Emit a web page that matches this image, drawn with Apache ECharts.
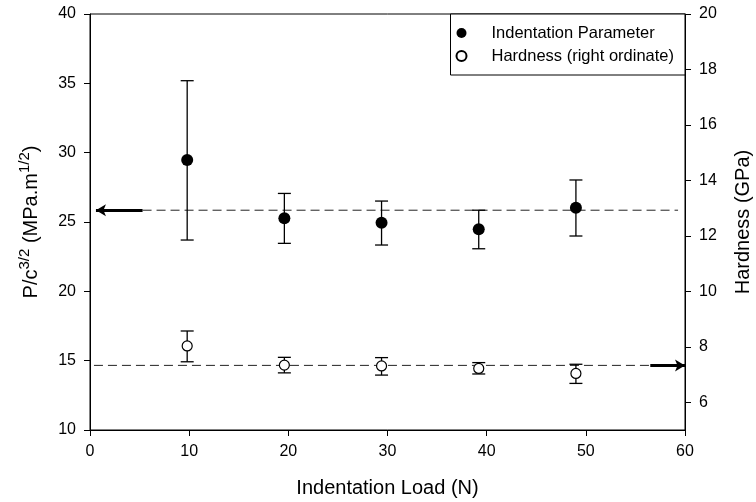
<!DOCTYPE html>
<html>
<head>
<meta charset="utf-8">
<script src="https://cdn.jsdelivr.net/npm/echarts@6/dist/echarts.min.js"></script>
<style>
  html, body { margin: 0; padding: 0; background: #fff; }
  #main { width: 756px; height: 502px; }
</style>
</head>
<body>
<div id="main"></div>
<script>
var chartDom = document.getElementById('main');
var myChart = echarts.init(chartDom);
var option;

// indentation load (N)
const loads = [9.8, 19.6, 29.4, 39.2, 49.0];
// indentation parameter P/c^3/2, left axis
const param = [29.47, 25.27, 24.95, 24.47, 26.03];
const paramHi = [35.19, 27.06, 26.51, 25.85, 28.03];
const paramLo = [23.70, 23.46, 23.34, 23.07, 23.99];
// hardness (GPa), right axis
const hard = [8.03, 7.34, 7.31, 7.22, 7.04];
const hardHi = [8.57, 7.62, 7.61, 7.43, 7.37];
const hardLo = [7.46, 7.06, 6.98, 7.02, 6.68];
// mean lines: [x start, x end, value], arrows: [x from, x to]
const paramMean = [5.3, 59.3, 25.85];
const paramArrow = [5.3, 0.6];
const hardMean = [0.4, 56.5, 7.33];
const hardArrow = [56.5, 60];
const rightTicks = [6, 8, 10, 12, 14, 16, 18, 20];

const FONT = 'Liberation Sans, Arial, sans-serif';

function errorBar(params, api) {
    var x = api.value(0);
    var top = api.coord([x, api.value(2)]);
    var bot = api.coord([x, api.value(1)]);
    var w = 6.5;
    var st = { stroke: '#000', lineWidth: 1.3 };
    return {
        type: 'group',
        children: [
            { type: 'line', shape: { x1: top[0], y1: top[1], x2: bot[0], y2: bot[1] }, style: st },
            { type: 'line', shape: { x1: top[0] - w, y1: top[1], x2: top[0] + w, y2: top[1] }, style: st },
            { type: 'line', shape: { x1: bot[0] - w, y1: bot[1], x2: bot[0] + w, y2: bot[1] }, style: st }
        ]
    };
}

function meanLine(name, m, arrow, yIdx) {
    return {
        name: name,
        type: 'line',
        yAxisIndex: yIdx,
        symbol: 'none',
        silent: true,
        z: 1,
        data: [[m[0], m[2]], [m[1], m[2]]],
        lineStyle: { color: '#222', width: 1, type: [9, 5] },
        markLine: {
            silent: true,
            symbol: ['none', 'arrow'],
            symbolSize: [9, 10],
            label: { show: false },
            lineStyle: { color: '#000', width: 3, type: 'solid' },
            data: [[{ coord: [arrow[0], m[2]] }, { coord: [arrow[1], m[2]] }]]
        }
    };
}

option = {
    animation: false,
    backgroundColor: '#fff',
    textStyle: { fontFamily: FONT },
    grid: {
        left: 90,
        right: 71,
        top: 14,
        bottom: 72,
        outerBoundsMode: 'none',
        containLabel: false,
        show: true,
        borderColor: '#000',
        borderWidth: 1
    },
    legend: {
        orient: 'vertical',
        right: 71,
        top: 14,
        backgroundColor: '#fff',
        borderColor: '#000',
        borderWidth: 1,
        borderRadius: 0,
        padding: [10, 11, 10, 5],
        itemGap: 5,
        itemWidth: 50,
        itemHeight: 10,
        textStyle: { fontSize: 16.5, color: '#000', fontFamily: FONT, lineHeight: 18 },
        data: ['Indentation Parameter', 'Hardness (right ordinate)']
    },
    xAxis: {
        type: 'value',
        min: 0,
        max: 60,
        interval: 10,
        name: 'Indentation Load (N)',
        nameLocation: 'middle',
        nameGap: 48,
        nameTextStyle: { fontSize: 20, color: '#000', fontFamily: FONT },
        axisLine: { lineStyle: { color: '#000', width: 1 } },
        axisTick: { inside: false, length: 6, lineStyle: { color: '#000' } },
        axisLabel: { fontSize: 16, color: '#000', margin: 14, fontFamily: FONT },
        splitLine: { show: false }
    },
    yAxis: [
        {
            type: 'value',
            min: 10,
            max: 40,
            interval: 5,
            name: 'P/c{sup|3/2} (MPa.m{sup|1/2})',
            nameLocation: 'middle',
            nameRotate: 90,
            nameGap: 45,
            nameTextStyle: {
                fontSize: 20,
                color: '#000',
                fontFamily: FONT,
                lineHeight: 28,
                rich: {
                    sup: { fontSize: 15, color: '#000', fontFamily: FONT, verticalAlign: 'top', lineHeight: 28, padding: [0, 0, 12, 0] }
                }
            },
            axisLine: { show: true, lineStyle: { color: '#000', width: 1 } },
            axisTick: { show: true, inside: false, length: 6, lineStyle: { color: '#000' } },
            axisLabel: { fontSize: 16, color: '#000', margin: 14, fontFamily: FONT },
            splitLine: { show: false }
        },
        {
            type: 'value',
            min: 5,
            max: 20,
            position: 'right',
            name: 'Hardness (GPa)',
            nameLocation: 'middle',
            nameRotate: 90,
            nameGap: 48,
            nameTextStyle: { fontSize: 20, color: '#000', fontFamily: FONT },
            axisLine: { show: true, lineStyle: { color: '#000', width: 1 } },
            axisTick: { show: true, inside: false, length: 6, customValues: rightTicks, lineStyle: { color: '#000' } },
            axisLabel: { fontSize: 16, color: '#000', margin: 14, fontFamily: FONT, customValues: rightTicks },
            splitLine: { show: false }
        }
    ],
    series: [
        meanLine('paramMean', paramMean, paramArrow, 0),
        meanLine('hardMean', hardMean, hardArrow, 1),
        {
            name: 'paramErr',
            type: 'custom',
            yAxisIndex: 0,
            renderItem: errorBar,
            encode: { x: 0, y: [1, 2] },
            z: 2,
            silent: true,
            data: loads.map((x, i) => [x, paramLo[i], paramHi[i]])
        },
        {
            name: 'hardErr',
            type: 'custom',
            yAxisIndex: 1,
            renderItem: errorBar,
            encode: { x: 0, y: [1, 2] },
            z: 2,
            silent: true,
            data: loads.map((x, i) => [x, hardLo[i], hardHi[i]])
        },
        {
            name: 'Indentation Parameter',
            type: 'scatter',
            yAxisIndex: 0,
            symbol: 'circle',
            symbolSize: 12,
            z: 3,
            itemStyle: { color: '#000', borderColor: '#000', borderWidth: 0, opacity: 1 },
            data: loads.map((x, i) => [x, param[i]])
        },
        {
            name: 'Hardness (right ordinate)',
            type: 'scatter',
            yAxisIndex: 1,
            symbol: 'circle',
            symbolSize: 10,
            z: 3,
            itemStyle: { color: '#fff', borderColor: '#000', borderWidth: 1.2, opacity: 1 },
            data: loads.map((x, i) => [x, hard[i]])
        }
    ]
};

option && myChart.setOption(option);
</script>
</body>
</html>
